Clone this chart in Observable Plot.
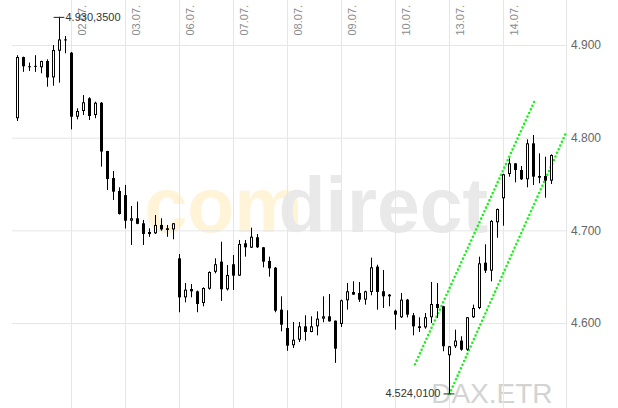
<!DOCTYPE html>
<html><head><meta charset="utf-8">
<script src="https://cdn.jsdelivr.net/npm/d3@7"></script>
<script src="https://cdn.jsdelivr.net/npm/@observablehq/plot@0.6"></script>
<style>
html,body{margin:0;padding:0;background:#fff;overflow:hidden}
g[aria-label="y-labels"] text{letter-spacing:1px}
g[aria-label="extremes-r"] text, g[aria-label="extremes-l"] text{letter-spacing:0.4px}
</style></head><body><div id="chart"></div>
<script>
// ---- data ----
const days = ["01.07.","02.07.","03.07.","06.07.","07.07.","08.07.","09.07.","10.07.","13.07.","14.07."];
const perDay = 9;
const open  = [4821,4887,4877,4877.5,4876,4882.7,4865,4893.8,4906,
               4891.7,4822.6,4828.8,4842.5,4824.5,4837.7,4785.6,4756.4,4742.5,
               4738,4710.4,4713,4707.6,4698.2,4696.8,4705.8,4702.2,4701,
               4669.8,4627.7,4636.7,4634.2,4621.6,4637,4655.3,4666.2,4636.4,
               4663.4,4651.1,4686,4681.3,4692.5,4681.7,4667,4659.7,4614.4,
               4594.6,4576,4582,4596.4,4590.3,4596.4,4604.7,4607.2,4602.5,
               4599,4624.5,4633.5,4632.4,4625.2,4633.5,4660.8,4634.2,4630.6,
               4613.3,4606.2,4625.2,4608.3,4596.4,4595.3,4606.2,4620.5,4618,
               4565.2,4574.9,4581,4571.2,4606.2,4616.2,4665.1,4656.5,4708.7,
               4734.6,4760.8,4772.3,4765.1,4755.1,4793.9,4758.6,4758.6,4753.6];
const high  = [4889,4887.5,4881,4889,4883,4884.6,4900,4930.35,4909.7,
               4892.5,4831.7,4846,4843.6,4838.8,4838.5,4785.8,4764,4746.4,
               4749,4726.3,4731,4711.2,4702.2,4716.5,4713,4705.8,4707.8,
               4674.5,4643.2,4642,4635,4638.5,4655.8,4669.8,4687.7,4662.6,
               4673.4,4689.6,4689.6,4702.9,4696,4682,4671.6,4660.4,4628.8,
               4613.7,4601,4601,4608.3,4607.2,4612.6,4628.8,4631.3,4602.7,
               4625.2,4643.2,4645,4644.3,4634.9,4670.5,4662.9,4657.2,4631.3,
               4614.4,4632.4,4626,4610.8,4606.2,4610.8,4644.3,4643.2,4618.5,
               4575,4592.8,4585.7,4606.5,4619.8,4671.6,4684.9,4711,4723.5,
               4761,4777.7,4772.5,4769.4,4798.2,4802.9,4783.1,4779.5,4782];
const low   = [4818,4871,4872,4871,4869.5,4855,4856,4859.3,4891,
               4809,4819.8,4824.5,4819,4821,4768.7,4743.5,4732.7,4717,
               4702,4684.2,4706.6,4684.2,4693,4696,4699.6,4693,4690.3,
               4611.6,4622.3,4627.7,4611.6,4618,4636,4653.6,4623.8,4635,
               4635.6,4651,4671.6,4681,4681,4660,4650,4611.6,4591,
               4570,4573,4579.5,4581,4590,4586.7,4600.8,4601.5,4557,
               4595.7,4614.4,4630.4,4622.7,4619.8,4629.9,4614.4,4616.2,4618,
               4592.8,4605.4,4606,4586.7,4590.3,4593.9,4600,4605.4,4569.5,
               4524.01,4573,4570.1,4570,4605.4,4615,4654,4645,4692,
               4705,4757.9,4751.8,4754.3,4746.4,4748.9,4750.8,4735.2,4750];
const close = [4887,4877,4876,4876.5,4882.7,4865,4894.6,4906,4905,
               4822.6,4828.8,4838.2,4823.4,4837.7,4785,4755.4,4741.7,4717.6,
               4710.4,4713,4707,4696,4696,4705.8,4701,4700.4,4707.6,
               4627.7,4636,4634.2,4620.5,4637.8,4655,4663.4,4636.4,4651.8,
               4651.1,4685.3,4681.7,4693.1,4681.7,4666.2,4659,4613.3,4598.2,
               4575.5,4582,4596.4,4590.3,4596.4,4604.7,4607.2,4601.8,4572.3,
               4624.5,4634.2,4630.6,4625.2,4634.2,4660.1,4633.5,4628.8,4628.8,
               4609,4625.2,4609,4596.4,4594.6,4606.2,4620.5,4616.2,4574.9,
               4574.9,4581,4571.2,4606.2,4616.2,4664.4,4656.5,4710.1,4723,
               4760.5,4772.3,4765.1,4755.1,4793.9,4757.9,4756.8,4753.6,4781.3];
const yTicks = [4600, 4700, 4800, 4900];
const extremes = [{i: 7, p: 4930.35, side: "r"}, {i: 72, p: 4524.01, side: "l"}];
const channelUpper = [{i: 66.25, p: 4556}, {i: 86.1, p: 4839}];
const channelLower = [{i: 72, p: 4524}, {i: 91.5, p: 4807}];
const watermark = ["com", "direct"];
const instrument = "DAX.ETR";
const xDomain = [-5/6, 91.5];
const yDomain = [4508.27, 4948.56];

// ---- build ----
const candles = open.map((o, k) => ({i: k, o, h: high[k], l: low[k], c: close[k],
  top: Math.max(o, close[k]), bot: Math.min(o, close[k]), up: close[k] >= o}));
const ups = candles.filter(d => d.up);
const dayTicks = days.map((label, k) => ({label, i: k * perDay})).slice(1);
const de = d3.formatLocale({decimal: ",", thousands: ".", grouping: [3], currency: ["", "€"]});
const fmt0 = de.format(",.0f"), fmt4 = de.format(",.4f");
const wmFont = "'Liberation Sans Narrow','Arial Narrow','Liberation Sans',Arial,sans-serif";
const green = "#1cf01c";
const dotted = {stroke: green, strokeWidth: 2.6, strokeDasharray: "0,4", strokeLinecap: "round"};

const chart = Plot.plot({
  width: 618, height: 408,
  marginLeft: 12, marginRight: 52, marginTop: 0, marginBottom: 0,
  x: {domain: xDomain, axis: null},
  y: {domain: yDomain, axis: null},
  style: {background: "#fff", fontFamily: "'Liberation Sans', Arial, sans-serif", overflow: "visible"},
  marks: [
    Plot.text([watermark[0]], {frameAnchor: "top-left", dx: 132, dy: 231.7, lineAnchor: "bottom", textAnchor: "start",
      fill: "#fff3d8", fontSize: 77, fontWeight: "bold", fontFamily: wmFont, ariaLabel: "wm-com"}),
    Plot.text([watermark[1]], {frameAnchor: "top-left", dx: 266, dy: 231.7, lineAnchor: "bottom", textAnchor: "start",
      fill: "#e9e9e9", fontSize: 77, fontWeight: "bold", fontFamily: wmFont, ariaLabel: "wm-direct"}),
    Plot.text([instrument], {frameAnchor: "top-left", dx: 418.7, dy: 402.7, lineAnchor: "bottom", textAnchor: "start",
      fill: "#d3d3d3", fontSize: 28}),
    Plot.ruleY(yTicks, {stroke: "#e6e6e6"}),
    Plot.ruleX(dayTicks, {x: "i", stroke: "#e6e6e6"}),
    Plot.ruleX([xDomain[1]], {stroke: "#e6e6e6"}),
    Plot.text(dayTicks, {x: "i", text: "label", frameAnchor: "top", rotate: -90, textAnchor: "start",
      dx: 6.5, dy: 35, fill: "#8c8c8c", fontSize: 11}),
    Plot.text(yTicks, {y: d => d, text: d => fmt0(d), frameAnchor: "right", textAnchor: "start",
      dx: 4.5, fill: "#666", fontSize: 12, ariaLabel: "y-labels"}),
    Plot.line(channelUpper, {x: "i", y: "p", ...dotted}),
    Plot.line(channelLower, {x: "i", y: "p", ...dotted}),
    Plot.ruleX(candles, {x: "i", y1: "l", y2: "h", stroke: "#000"}),
    Plot.ruleX(candles, {x: "i", y1: "top", y2: "bot", stroke: "#000", strokeWidth: 3}),
    Plot.ruleX(ups, {x: "i", y1: "top", y2: "bot", stroke: "#fff", strokeWidth: 1, insetTop: 1, insetBottom: 1}),
    Plot.ruleY(extremes, {y: "p", x1: d => d.i - 0.9, x2: d => d.i + 0.9, stroke: "#222"}),
    Plot.text(extremes.filter(d => d.side === "r"), {x: "i", y: "p", text: d => fmt4(d.p), textAnchor: "start",
      dx: 6, fill: "#333", fontSize: 11, ariaLabel: "extremes-r"}),
    Plot.text(extremes.filter(d => d.side === "l"), {x: "i", y: "p", text: d => fmt4(d.p), textAnchor: "end",
      dx: -9, fill: "#333", fontSize: 11, ariaLabel: "extremes-l"})
  ]
});
d3.select(chart).selectAll('g[aria-label="wm-com"] text').attr("textLength", 131).attr("lengthAdjust", "spacingAndGlyphs");
d3.select(chart).selectAll('g[aria-label="wm-direct"] text').attr("textLength", 173).attr("lengthAdjust", "spacingAndGlyphs");
document.getElementById("chart").append(chart);
</script></body></html>
